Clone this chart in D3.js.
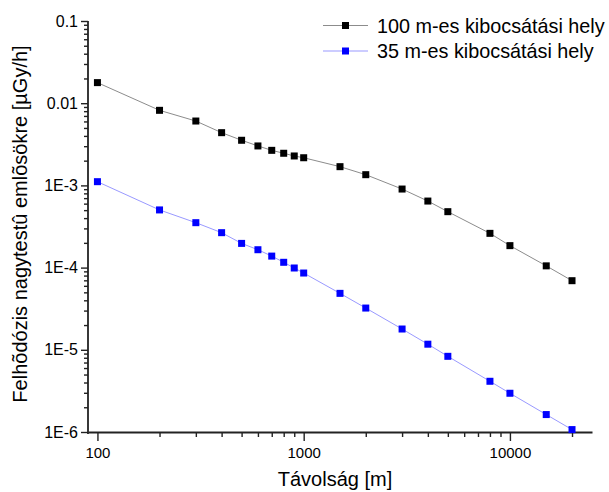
<!DOCTYPE html>
<html><head><meta charset="utf-8">
<script src="https://cdn.jsdelivr.net/npm/d3@7"></script>
<style>body{margin:0;background:#fff;} text{font-family:Arial,"Liberation Sans",sans-serif;}</style>
</head><body><svg id="c" width="609" height="492"></svg>
<script>
const distances = [100,200,300,400,500,600,700,800,900,1000,1500,2000,3000,4000,5000,8000,10000,15000,20000];
const site100 = [0.0178,0.00819,0.00607,0.00438,0.00354,0.00302,0.00267,0.00246,0.00228,0.00217,0.00169,0.00135,0.000903,0.000645,0.000479,0.000261,0.000185,0.000105,0.0000693];
const site35 = [0.00111,0.000503,0.000352,0.000266,0.000197,0.000165,0.000138,0.000116,0.0000989,0.0000859,0.0000486,0.0000322,0.0000179,0.0000117,0.00000833,0.00000414,0.00000296,0.00000163,0.00000107];
const seriesNames = ["100 m-es kibocsátási hely","35 m-es kibocsátási hely"];
const xTickValues = [100,1000,10000];
const xTickLabels = ["100","1000","10000"];
const yTickValues = [1e-6,1e-5,1e-4,1e-3,0.01,0.1];
const yTickLabels = ["1E-6","1E-5","1E-4","1E-3","0.01","0.1"];
const xTitle = "Távolság [m]";
const yTitle = "Felhõdózis nagytestû emlõsökre [µGy/h]";

const svg = d3.select("#c");
const x = d3.scaleLog().domain([90,25000]).range([88,592]);
const y = d3.scaleLog().domain([1e-6,0.1]).range([432,21]);

// minor ticks
const xMinor = [];
for (let d=100; d<=10000; d*=10) for (let k=2;k<=9;k++){ const v=d*k; if (v<=25000) xMinor.push(v); }
const yMinor = [];
for (let d=1e-6; d<0.1*0.99; d*=10) for (let k=2;k<=9;k++) yMinor.push(d*k);

const gx = svg.append("g").attr("transform","translate(0,432)");
gx.call(d3.axisBottom(x).tickValues(xMinor).tickSize(5).tickFormat(""));
gx.call(g=>g.select(".domain").remove());
const gx2 = svg.append("g").attr("transform","translate(0,432)");
gx2.call(d3.axisBottom(x).tickValues(xTickValues).tickSize(9).tickSizeOuter(0)
  .tickFormat((d,i)=>xTickLabels[i]));
gx2.selectAll("text").attr("font-size",15).attr("fill","#000").attr("dy","0.93em").attr("font-family","Arial");
gx2.select(".domain").attr("stroke-width",1.8).attr("stroke","#222");

const gy = svg.append("g").attr("transform","translate(88,0)");
gy.call(d3.axisLeft(y).tickValues(yMinor).tickSize(4).tickFormat(""));
gy.call(g=>g.select(".domain").remove());
const gy2 = svg.append("g").attr("transform","translate(88,0)");
gy2.call(d3.axisLeft(y).tickValues(yTickValues).tickSize(7).tickSizeOuter(0)
  .tickFormat((d,i)=>yTickLabels[i]));
gy2.selectAll("text").attr("font-size",16).attr("fill","#000").attr("font-family","Arial").attr("x",-10);
gy2.select(".domain").attr("stroke-width",1.8).attr("stroke","#222").attr("d","M0,21V434");
svg.selectAll("g .tick line").attr("stroke","#222").attr("stroke-width",1.4);

const series = [
  {vals:site100, line:"#8c8c8c", fill:"#000000"},
  {vals:site35, line:"#9999ff", fill:"#0000ff"}
];
const line = d3.line().x(d=>x(d[0])).y(d=>y(d[1]));
series.forEach(s=>{
  const pts = distances.map((d,i)=>[d,s.vals[i]]);
  svg.append("path").datum(pts).attr("d",line).attr("fill","none").attr("stroke",s.line).attr("stroke-width",1);
  svg.append("g").selectAll("rect").data(pts).join("rect")
    .attr("x",d=>x(d[0])-3.5).attr("y",d=>y(d[1])-3.5).attr("width",7).attr("height",7)
    .attr("fill",s.fill);
});

// legend
const ly = [25.5,51];
series.forEach((s,i)=>{
  svg.append("line").attr("x1",323).attr("x2",368).attr("y1",ly[i]).attr("y2",ly[i]).attr("stroke",s.line).attr("stroke-width",1);
  svg.append("rect").attr("x",345.5-3.5).attr("y",ly[i]-3.5).attr("width",7).attr("height",7).attr("fill",s.fill);
  svg.append("text").attr("x",377).attr("y",ly[i]).attr("dy","0.36em").attr("font-size",19.8).attr("fill","#000").text(seriesNames[i]);
});

svg.append("text").attr("x",335).attr("y",486).attr("text-anchor","middle").attr("font-size",20).text(xTitle);
svg.append("text").attr("transform","translate(27,224) rotate(-90)").attr("text-anchor","middle").attr("font-size",20).text(yTitle);
</script></body></html>
